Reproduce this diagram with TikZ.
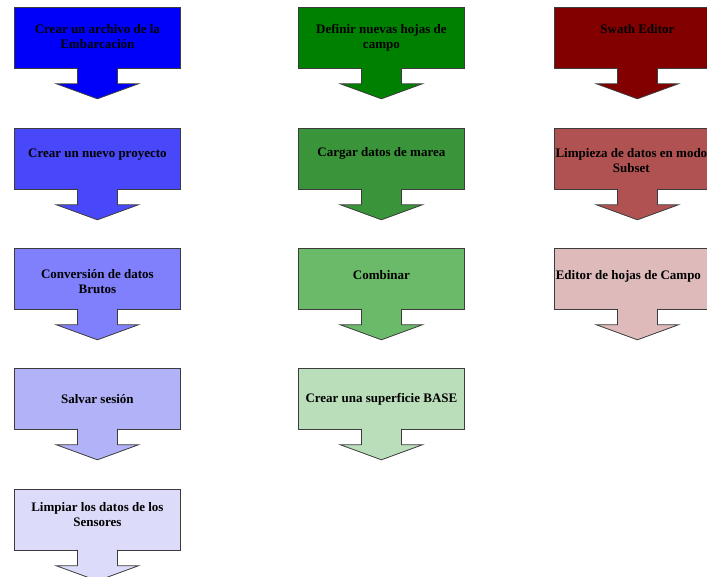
\documentclass[tikz,border=0pt]{standalone}
\usepackage{fontspec}
\setmainfont{Liberation Serif}
\usetikzlibrary{positioning}
\usepackage{xcolor}
\definecolor{blueA}{RGB}{0,0,250}
\definecolor{blueB}{RGB}{72,72,250}
\definecolor{blueC}{RGB}{128,128,252}
\definecolor{blueD}{RGB}{178,178,248}
\definecolor{blueE}{RGB}{220,220,250}
\definecolor{greenA}{RGB}{0,128,0}
\definecolor{greenB}{RGB}{58,148,58}
\definecolor{greenC}{RGB}{106,186,106}
\definecolor{greenD}{RGB}{186,222,186}
\definecolor{redA}{RGB}{130,0,0}
\definecolor{redB}{RGB}{176,82,82}
\definecolor{redC}{RGB}{222,186,186}
\definecolor{edge}{RGB}{60,60,60}
\tikzset{stepbox/.style={draw=edge, line width=0.8pt, minimum width=166pt, minimum height=61pt, inner sep=0pt, anchor=north west},steptext/.style={font=\bfseries\fontsize{13}{15}\selectfont, align=center, anchor=north, inner sep=0pt, text=black}}

\begin{document}
\begin{tikzpicture}[
        line join=miter,
        stemarrow/.style={draw=edge, line width=0.8pt}
    ]
        \useasboundingbox (0pt, 0pt) rectangle (707pt, -576pt);
        \clip (0pt, 0pt) rectangle (707pt, -576pt);
        % Boxes
        \node[stepbox, fill=blueA] (b11) at (14pt, -7pt) {};
        \node[stepbox, fill=blueB] (b12) at (14pt, -128pt) {};
        \node[stepbox, fill=blueC] (b13) at (14pt, -248pt) {};
        \node[stepbox, fill=blueD] (b14) at (14pt, -368pt) {};
        \node[stepbox, fill=blueE] (b15) at (14pt, -489pt) {};
        \node[stepbox, fill=greenA] (b21) at (298pt, -7pt) {};
        \node[stepbox, fill=greenB] (b22) at (298pt, -128pt) {};
        \node[stepbox, fill=greenC] (b23) at (298pt, -248pt) {};
        \node[stepbox, fill=greenD] (b24) at (298pt, -368pt) {};
        \node[stepbox, fill=redA] (b31) at (554pt, -7pt) {};
        \node[stepbox, fill=redB] (b32) at (554pt, -128pt) {};
        \node[stepbox, fill=redC] (b33) at (554pt, -248pt) {};
        % Arrows
        \foreach \b/\c in {b11/blueA, b12/blueB, b13/blueC, b14/blueD, b15/blueE,
            b21/greenA, b22/greenB, b23/greenC, b24/greenD,
            b31/redA, b32/redB, b33/redC} {
            \draw[stemarrow, fill=\c] ([shift={(-20pt,1pt)}]\b.south) -- ++(0pt, -16pt) -- ++(-21pt, 0pt)
                -- ([yshift=-30pt]\b.south) -- ++(41pt, 15pt) -- ++(-21pt, 0pt) -- ([shift={(20pt,1pt)}]\b.south);
        }
        % Texts
        \node[steptext] (t11) at ([yshift=-17pt]b11.north) {Crear un archivo de la\\Embarcación};
        \node[steptext] (t12) at ([yshift=-21pt]b12.north) {Crear un nuevo proyecto};
        \node[steptext] (t13) at ([yshift=-21pt]b13.north) {Conversión de datos\\Brutos};
        \node[steptext] (t14) at ([yshift=-26pt]b14.north) {Salvar sesión};
        \node[steptext] (t15) at ([yshift=-13pt]b15.north) {Limpiar los datos de los\\Sensores};
        \node[steptext] (t21) at ([yshift=-17pt]b21.north) {Definir nuevas hojas de\\campo};
        \node[steptext] (t22) at ([yshift=-19pt]b22.north) {Cargar datos de marea};
        \node[steptext] (t23) at ([yshift=-22pt]b23.north) {Combinar};
        \node[steptext] (t24) at ([yshift=-25pt]b24.north) {Crear una superficie BASE};
        \node[steptext] (t31) at ([yshift=-17pt]b31.north) {Swath Editor};
        \node[steptext] (t32) at ([shift={(-6pt,-20pt)}]b32.north) {Limpieza de datos en modo\\Subset};
        \node[steptext] (t33) at ([shift={(-9pt,-22pt)}]b33.north) {Editor de hojas de Campo};
    \end{tikzpicture}
\end{document}
